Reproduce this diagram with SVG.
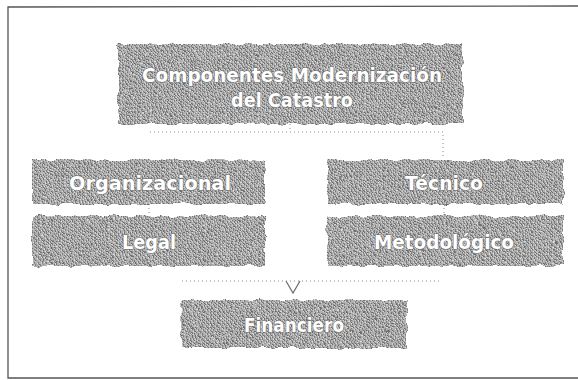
<svg xmlns="http://www.w3.org/2000/svg" width="578" height="380" viewBox="0 0 578 380">
<defs>
<pattern id="dither" width="4" height="4" patternUnits="userSpaceOnUse">
<rect width="4" height="4" fill="#b0b0b0"/>
<rect x="0" y="0" width="1" height="1" fill="#707070"/>
<rect x="2" y="1" width="1" height="1" fill="#7a7a7a"/>
<rect x="1" y="2" width="1" height="1" fill="#dadada"/>
<rect x="3" y="3" width="1" height="1" fill="#6c6c6c"/>
<rect x="3" y="0" width="1" height="1" fill="#d4d4d4"/>
<rect x="0" y="3" width="1" height="1" fill="#8e8e8e"/>
<rect x="2" y="2" width="1" height="1" fill="#828282"/>
</pattern>
<filter id="rough" x="-5%" y="-15%" width="110%" height="130%">
<feTurbulence type="fractalNoise" baseFrequency="0.09" numOctaves="2" seed="4" result="n"/>
<feDisplacementMap in="SourceGraphic" in2="n" scale="6" xChannelSelector="R" yChannelSelector="G"/>
</filter>
</defs>
<style>
.box{fill:url(#dither);filter:url(#rough)}
.lbl{font-family:"DejaVu Sans","Liberation Sans",sans-serif;font-weight:bold;fill:#ffffff;stroke:#6a6a6a;stroke-width:1;paint-order:stroke;text-anchor:middle;font-size:20px}
.con{fill:none;stroke:#8a8a8a;stroke-width:1;stroke-dasharray:1 3}
.frame{fill:none;stroke:#555;stroke-width:1.3}
</style>
<rect width="578" height="380" fill="#ffffff"/>
<path class="frame" d="M579,6 L8,7 L8,378 L579,378"/>
<g id="connectors">
<path class="con" d="M290,124 V132"/>
<path class="con" d="M150,132 H443 V158"/>
<path class="con" d="M149,204 V215"/>
<path class="con" d="M444,204 V215"/>
<path class="con" d="M182,281 H440"/>
<polyline points="286,281 293,293 300,281" fill="none" stroke="#6a6a6a" stroke-width="1.2"/>
</g>
<g id="n-top">
<rect class="box" x="118" y="44" width="345" height="80"/>
<text class="lbl" x="292" y="82" font-size="23" textLength="300" lengthAdjust="spacingAndGlyphs">Componentes Modernización</text>
<text class="lbl" x="292" y="107" font-size="23" textLength="122" lengthAdjust="spacingAndGlyphs">del Catastro</text>
</g>
<g id="n-organizacional">
<rect class="box" x="32" y="160" width="233" height="44"/>
<text class="lbl" x="150" y="190" textLength="162" lengthAdjust="spacingAndGlyphs">Organizacional</text>
</g>
<g id="n-tecnico">
<rect class="box" x="327" y="160" width="236" height="44"/>
<text class="lbl" x="444" y="190" textLength="78" lengthAdjust="spacingAndGlyphs">Técnico</text>
</g>
<g id="n-legal">
<rect class="box" x="32" y="216" width="233" height="50"/>
<text class="lbl" x="149" y="249" textLength="54" lengthAdjust="spacingAndGlyphs">Legal</text>
</g>
<g id="n-metodologico">
<rect class="box" x="327" y="216" width="236" height="50"/>
<text class="lbl" x="444" y="249" textLength="140" lengthAdjust="spacingAndGlyphs">Metodológico</text>
</g>
<g id="n-financiero">
<rect class="box" x="181" y="300" width="226" height="48"/>
<text class="lbl" x="294" y="332" textLength="100" lengthAdjust="spacingAndGlyphs">Financiero</text>
</g>
</svg>
